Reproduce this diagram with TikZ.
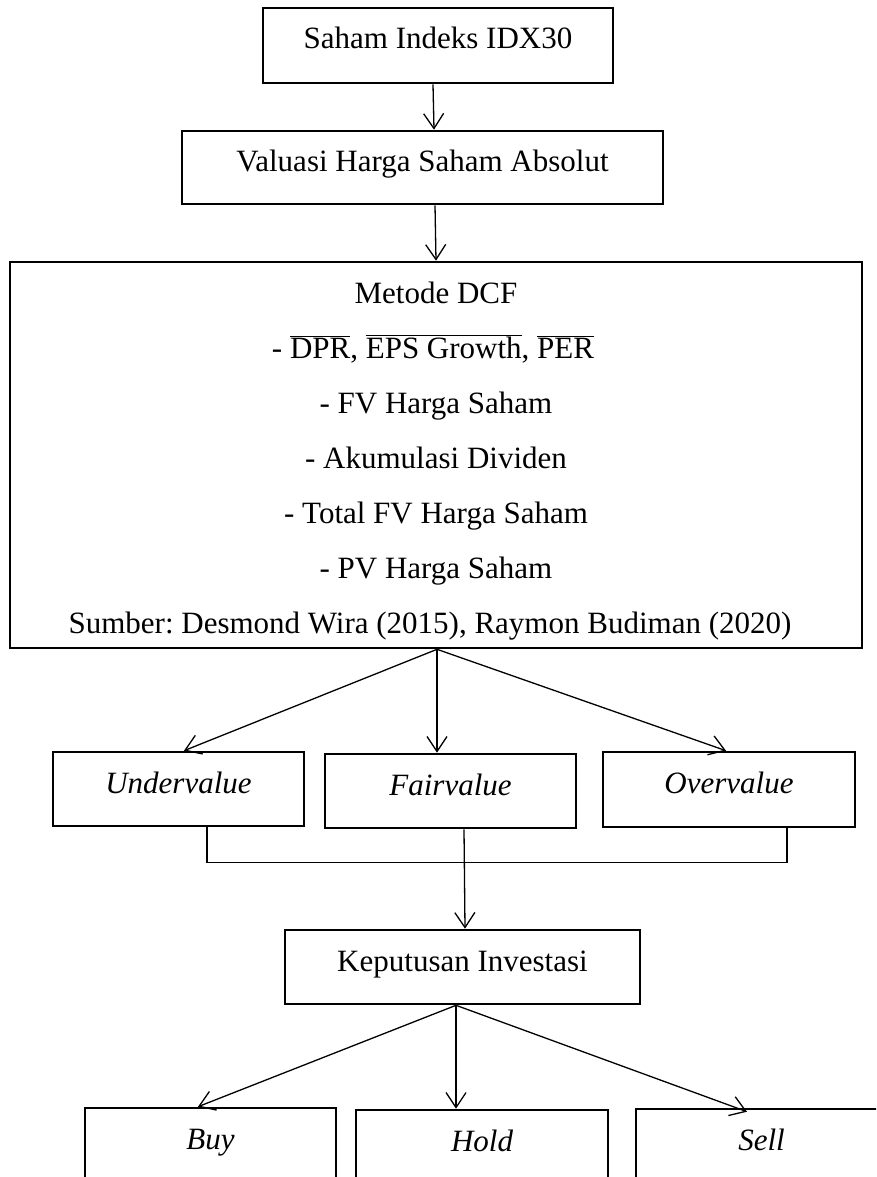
\documentclass[tikz,border=0pt]{standalone}
\usepackage{fontspec}
\setmainfont{Liberation Serif}
\usetikzlibrary{arrows.meta}
\frenchspacing
\begin{document}
\begin{tikzpicture}[x=1pt,y=-1pt,
  box/.style={draw,line width=2.6pt,inner sep=0pt,text height=41pt,text depth=33pt,minimum width=251pt},
  bigbox/.style={draw,line width=2.6pt,inner sep=0pt},
  txtline/.style={anchor=base,inner sep=0pt},
  conn/.style={line width=1.3pt,-{Straight Barb[length=15pt,width=20pt,line width=1.3pt]}},
  plain/.style={line width=1.3pt}
]
\fontsize{31}{37}\selectfont
\clip (0,0) rectangle (876,1177);
\fill[white] (0,0) rectangle (876,1177);
% boxes
\node[box,minimum width=350pt,text depth=34pt] (b1) at (438,45.5) {Saham Indeks IDX30};
\node[box,minimum width=481pt,text depth=32pt] (b2) at (422.5,167.5) {Valuasi Harga Saham Absolut};
\node[bigbox,minimum width=852pt,minimum height=386pt] (b3) at (436,455) {};
\node[txtline] (l1) at (436,303) {Metode DCF};
\node[txtline] (l2) at (433,358) {- $\overline{\mbox{DPR}}$, $\overline{\mbox{EPS Growth}}$, $\overline{\mbox{PER}}$};
\node[txtline] (l3) at (436,413) {- FV Harga Saham};
\node[txtline] (l4) at (436,468) {- Akumulasi Dividen};
\node[txtline] (l5) at (436,523) {- Total FV Harga Saham};
\node[txtline] (l6) at (436,578) {- PV Harga Saham};
\node[txtline] (l7) at (430,633) {Sumber: Desmond Wira (2015), Raymon Budiman (2020)};
\node[box] (u) at (178.5,789) {\itshape Undervalue};
\node[box] (f) at (450.5,791) {\itshape Fairvalue};
\node[box,minimum width=252pt,text depth=34pt] (o) at (729,789.5) {\itshape Overvalue};
\node[box,minimum width=355pt] (k) at (462.5,967) {Keputusan Investasi};
\node[box] (buy) at (210.5,1145) {\itshape Buy};
\node[box,minimum width=252pt] (hold) at (482,1147) {\itshape Hold};
\node[box] (sell) at (761.5,1146) {\itshape Sell};
% connectors
\draw[conn] ([xshift=-5pt]b1.south) -- ([xshift=11.5pt]b2.north);
\draw[conn] ([xshift=12.5pt]b2.south) -- (b3.north);
\draw[conn] ([xshift=1pt]b3.south) -- ([xshift=5.5pt]u.north);
\draw[conn] ([xshift=1pt]b3.south) -- ([xshift=-13.5pt]f.north);
\draw[conn] ([xshift=1pt]b3.south) -- ([xshift=-3pt]o.north);
\draw[plain] ([xshift=28.5pt]u.south) -- ++(0,35) -| ([xshift=58pt]o.south);
\draw[conn] ([xshift=13.5pt]f.south) -- ([xshift=2.5pt]k.north);
\draw[conn] ([xshift=-6.5pt]k.south) -- ([xshift=-12.5pt]buy.north);
\draw[conn] ([xshift=-6.5pt]k.south) -- ([xshift=-26pt]hold.north);
\draw[conn] ([xshift=-6.5pt]k.south) -- ([xshift=-14.5pt,yshift=-4pt]sell.north);
\end{tikzpicture}
\end{document}
